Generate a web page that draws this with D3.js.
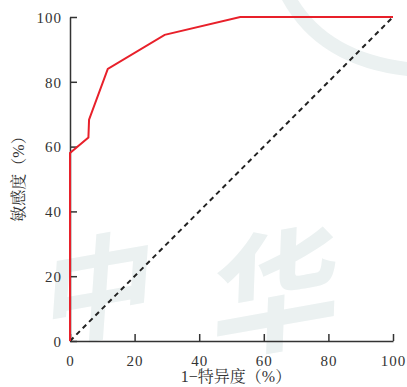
<!DOCTYPE html>
<html>
<head>
<meta charset="utf-8">
<script src="https://cdn.jsdelivr.net/npm/d3@7"></script>
<style>
  body { margin: 0; background: #fff; }
  svg { display: block; }
</style>
</head>
<body>
<svg id="chart"></svg>
<script>
// ROC curve points (1 - specificity %, sensitivity %)
const fpr = [0, 0, 5.7, 5.9, 11.7, 29.3, 52.7, 100];
const tpr = [0, 58, 62.8, 68.3, 84, 94.5, 100, 100];
const refLine = [0, 100];
const tickValues = [0, 20, 40, 60, 80, 100];
const xTitle = '1\u2212特异度（%）';
const yTitle = '敏感度（%）';

const width = 407, height = 387;
const margin = { top: 17, right: 14, bottom: 46, left: 70 };
const innerWidth = width - margin.left - margin.right;
const innerHeight = height - margin.top - margin.bottom;
const serif = '"Liberation Serif", "Noto Serif CJK SC", "Noto Sans CJK SC", serif';

const svg = d3.select('#chart')
  .attr('width', width)
  .attr('height', height);

// faint background watermark
const wm = svg.append('g').attr('fill', '#ebf1f1').attr('stroke', 'none');
wm.append('path')
  .attr('d', 'M 298 0 Q 330 52 407 62 L 407 76 Q 318 66 282 0 Z');
wm.append('text')
  .attr('x', 165).attr('y', 318)
  .attr('font-family', 'Noto Sans CJK SC')
  .attr('font-weight', 700)
  .attr('font-size', 112)
  .attr('text-anchor', 'middle')
  .attr('transform', 'rotate(-10 165 260) skewX(-14)')
  .text('中');
wm.append('text')
  .attr('x', 330).attr('y', 330)
  .attr('font-family', 'Noto Sans CJK SC')
  .attr('font-weight', 700)
  .attr('font-size', 130)
  .attr('text-anchor', 'middle')
  .attr('transform', 'rotate(-10 330 250) skewX(-12)')
  .text('华');

const g = svg.append('g')
  .attr('transform', `translate(${margin.left},${margin.top})`);

const x = d3.scaleLinear().domain([0, 100]).range([0, innerWidth]);
const y = d3.scaleLinear().domain([0, 100]).range([innerHeight, 0]);

// axes with inward ticks
const xAxis = g.append('g')
  .attr('transform', `translate(0,${innerHeight})`)
  .call(d3.axisBottom(x).tickValues(tickValues).tickSize(-7).tickPadding(14).tickSizeOuter(0));
const yAxis = g.append('g')
  .call(d3.axisLeft(y).tickValues(tickValues).tickSize(-7).tickPadding(8).tickSizeOuter(0));

[xAxis, yAxis].forEach(ax => {
  ax.attr('font-family', serif).attr('font-size', 15);
  ax.select('.domain').attr('stroke', '#333').attr('stroke-width', 1.5);
  ax.selectAll('.tick line').attr('stroke', '#333').attr('stroke-width', 1.5);
  ax.selectAll('.tick text').attr('fill', '#333').attr('letter-spacing', 1);
});
yAxis.selectAll('.tick text').attr('dy', '0.35em');

// reference diagonal
g.append('line')
  .attr('x1', x(refLine[0])).attr('y1', y(refLine[0]))
  .attr('x2', x(refLine[1])).attr('y2', y(refLine[1]))
  .attr('stroke', '#222')
  .attr('stroke-width', 2)
  .attr('stroke-dasharray', '5,4');

// ROC curve
const rocData = fpr.map((v, i) => [v, tpr[i]]);
g.append('path')
  .datum(rocData)
  .attr('fill', 'none')
  .attr('stroke', '#e8202a')
  .attr('stroke-width', 2)
  .attr('stroke-linejoin', 'miter')
  .attr('d', d3.line().x(d => x(d[0])).y(d => y(d[1])));

// axis titles
svg.append('text')
  .attr('x', 236)
  .attr('y', 382)
  .attr('text-anchor', 'middle')
  .attr('font-family', serif)
  .attr('font-size', 16)
  .attr('fill', '#333')
  .text(xTitle);

svg.append('text')
  .attr('transform', 'translate(24,175) rotate(-90)')
  .attr('text-anchor', 'middle')
  .attr('font-family', serif)
  .attr('font-size', 16)
  .attr('fill', '#333')
  .text(yTitle);
</script>
</body>
</html>
